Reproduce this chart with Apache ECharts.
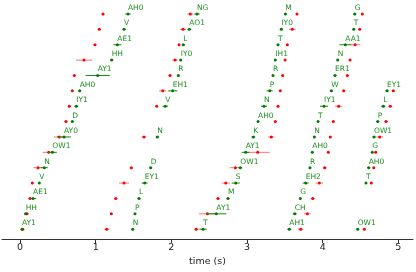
<!DOCTYPE html>
<html><head><meta charset="utf-8">
<script src="https://cdn.jsdelivr.net/npm/echarts@6/dist/echarts.min.js"></script>
<style>html,body{margin:0;padding:0;background:#fff}#c{width:416px;height:272px}</style>
</head><body><div id="c"></div>
<script>
// Row index (0 = top line), one entry per phoneme, grouped by word chain (5 chains)
const rows = [
  0,1,2,3,4,5,6,7,8,9,10,11,12,13,14,
  0,1,2,3,4,5,6,8,10,11,12,13,14,
  0,1,2,3,4,5,6,7,8,9,10,11,12,13,14,
  0,1,2,3,4,5,6,7,8,9,10,11,12,13,14,
  5,6,7,8,9,10,11,14
];
const phonemes = [
  'AH0','V','AE1','HH','AY1','AH0','IY1','D','AY0','OW1','N','V','AE1','HH','AY1',
  'NG','AO1','L','IY0','R','EH1','V','N','D','EY1','L','P','N',
  'M','IY0','T','IH1','R','P','N','AH0','K','AY1','OW1','S','M','AY1','T',
  'G','T','AA1','N','ER1','W','IY1','T','N','AH0','R','EH2','G','CH','AH1',
  'EY1','L','P','OW1','G','AH0','T','OW1'
];
// green (labelled) times and their errors, seconds
const greenTime = [
  1.427,1.375,1.286,1.212,1.027,0.789,0.744,0.691,0.582,0.427,0.321,0.255,0.172,0.075,0.026,
  2.339,2.238,2.158,2.124,2.092,2.018,1.920,1.815,1.727,1.648,1.573,1.520,1.490,
  3.507,3.454,3.410,3.374,3.344,3.300,3.225,3.146,3.084,2.983,2.912,2.851,2.749,2.595,2.419,
  4.424,4.411,4.300,4.199,4.163,4.115,4.018,3.939,3.890,3.863,3.833,3.776,3.705,3.631,3.559,
  4.851,4.802,4.728,4.679,4.656,4.609,4.573,4.463
];
const greenErr = [
  0.036,0.02,0.053,0.02,0.159,0.02,0.026,0.013,0.093,0.06,0.046,0.013,0.04,0.02,0.013,
  0.037,0.026,0.02,0.013,0.013,0.06,0.036,0.02,0.02,0.04,0.02,0.013,0.013,
  0.013,0.02,0.013,0.013,0.013,0.04,0.04,0.013,0.026,0.053,0.026,0.053,0.02,0.132,0.049,
  0.02,0.013,0.079,0.013,0.02,0.02,0.053,0.013,0.013,0.013,0.013,0.04,0.013,0.026,0.026,
  0.02,0.026,0.02,0.02,0.013,0.02,0.013,0.013
];
// red times and their errors, seconds
const redTime = [
  1.097,1.048,0.991,0.846,0.718,0.691,0.652,0.608,0.519,0.379,0.238,0.163,0.132,0.093,0.036,
  2.251,2.154,2.102,2.049,1.983,1.886,1.807,1.639,1.471,1.375,1.265,1.207,1.146,
  3.661,3.599,3.533,3.503,3.472,3.440,3.410,3.374,3.321,3.142,2.846,2.719,2.617,2.476,2.330,
  4.524,4.490,4.428,4.362,4.326,4.278,4.212,4.141,4.101,4.075,4.027,3.956,3.869,3.797,3.710,
  4.934,4.894,4.838,4.754,4.701,4.675,4.643,4.551
];
const redErr = [
  0.02,0.02,0.02,0.106,0.013,0.013,0.02,0.02,0.07,0.079,0.062,0.013,0.02,0.02,0.02,
  0.04,0.04,0.013,0.036,0.02,0.049,0.013,0.03,0.02,0.066,0.02,0.013,0.033,
  0.013,0.044,0.013,0.013,0.013,0.013,0.013,0.013,0.042,0.159,0.075,0.053,0.02,0.11,0.03,
  0.013,0.013,0.07,0.013,0.013,0.02,0.049,0.013,0.013,0.013,0.026,0.049,0.026,0.044,0.036,
  0.02,0.026,0.026,0.044,0.013,0.013,0.013,0.013
];
const xTicks = [0, 1, 2, 3, 4, 5];
const xTitle = 'time (s)';

const chart = echarts.init(document.getElementById('c'), null, {renderer: 'canvas'});
const FONT = 'DejaVu Sans';

function errSeries(xs, errs, color, z) {
  return {
    type: 'custom', z: z, silent: true,
    data: xs.map((x, i) => [x, rows[i], errs[i]]),
    encode: {x: 0, y: 1},
    renderItem(params, api) {
      const x = api.value(0), y = api.value(1), e = api.value(2);
      const a = api.coord([x - e, y]);
      const b = api.coord([x + e, y]);
      return {type: 'line', shape: {x1: a[0], y1: a[1], x2: b[0], y2: b[1]},
              style: {stroke: color, lineWidth: 1}};
    }
  };
}

chart.setOption({
  animation: false,
  backgroundColor: '#fff',
  grid: {left: 2, right: 3, top: 3, bottom: 26},
  xAxis: {
    type: 'value', min: -0.238, max: 5.194, position: 'bottom',
    splitLine: {show: false},
    axisLine: {show: true, onZero: false, lineStyle: {color: '#333', width: 1}},
    axisTick: {show: true, length: 3.5, inside: false, customValues: xTicks, lineStyle: {color: '#333'}},
    axisLabel: {customValues: xTicks, margin: 2.5, fontSize: 9.5, color: '#222', fontFamily: FONT},
    name: xTitle, nameLocation: 'middle', nameGap: 12.5,
    nameTextStyle: {fontSize: 9.5, color: '#222', fontFamily: FONT}
  },
  yAxis: {type: 'value', inverse: true, min: -0.716, max: 14.678, show: false},
  series: [
    errSeries(redTime, redErr, 'rgba(255,0,0,0.55)', 1),
    {
      type: 'scatter', z: 2, symbolSize: 3,
      itemStyle: {color: '#ff0000', opacity: 1},
      data: redTime.map((x, i) => [x, rows[i]])
    },
    errSeries(greenTime, greenErr, '#108a10', 3),
    {
      type: 'scatter', z: 4, symbolSize: 3,
      itemStyle: {color: '#007a00', opacity: 1},
      data: greenTime.map((x, i) => [x, rows[i]]),
      label: {
        show: true,
        formatter: p => phonemes[p.dataIndex],
        position: [1.5, -0.5], align: 'left', verticalAlign: 'bottom',
        fontSize: 7.5, fontFamily: FONT, color: '#1f8f1f'
      },
      labelLayout: {hideOverlap: false}
    }
  ]
});
</script></body></html>
